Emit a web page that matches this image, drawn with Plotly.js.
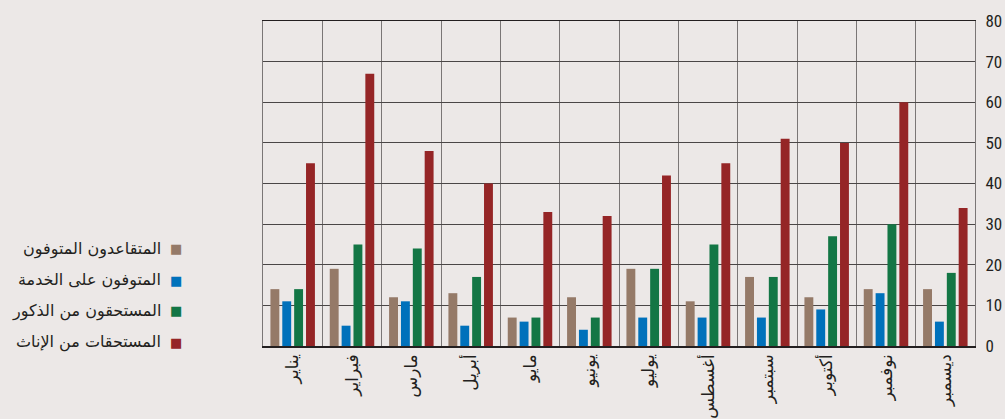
<!DOCTYPE html>
<html>
<head>
<meta charset="utf-8">
<script src="https://cdn.plot.ly/plotly-3.0.1.min.js"></script>
<style>
  html, body { margin: 0; padding: 0; background: #ece8e7; }
  #chart { width: 1005px; height: 419px; }
</style>
</head>
<body>
<div id="chart"></div>
<script>
// Categories (months)
const months = ["يناير", "فبراير", "مارس", "أبريل", "مايو", "يونيو", "يوليو", "أغسطس", "سبتمبر", "أكتوبر", "نوفمبر", "ديسمبر"];

// Series names
const seriesNames = ["المتقاعدون المتوفون", "المتوفون على الخدمة", "المستحقون من الذكور", "المستحقات من الإناث"];

// Series values
const retiredDeceased = [14, 19, 12, 13, 7, 12, 19, 11, 17, 12, 14, 14];
const deceasedInService = [11, 5, 11, 5, 6, 4, 7, 7, 7, 9, 13, 6];
const maleBeneficiaries = [14, 25, 24, 17, 7, 7, 19, 25, 17, 27, 30, 18];
const femaleBeneficiaries = [45, 67, 48, 40, 33, 32, 42, 45, 51, 50, 60, 34];

// Y tick values
const yTicks = [0, 10, 20, 30, 40, 50, 60, 70, 80];

const seriesValues = [retiredDeceased, deceasedInService, maleBeneficiaries, femaleBeneficiaries];
const colors = ["#957a68", "#0071bb", "#137645", "#952526"];

const traces = seriesValues.map((vals, i) => ({
  type: "bar",
  x: months,
  y: vals,
  name: seriesNames[i],
  marker: { color: colors[i], line: { width: 0 } },
  showlegend: false,
  hoverinfo: "x+y+name"
}));

const arabicFont = "'DejaVu Sans', 'Noto Sans', sans-serif";

// Legend built as annotations (symbol on the right of the text)
const annotations = [];
const legendY = [0.2985, 0.203, 0.1077, 0.0123];
seriesNames.forEach((name, i) => {
  annotations.push({
    xref: "paper", yref: "paper",
    x: -0.1404, y: legendY[i],
    xanchor: "right", yanchor: "middle",
    text: name, showarrow: false,
    font: { family: arabicFont, size: 16, color: "#231f20" }
  });
  annotations.push({
    xref: "paper", yref: "paper",
    x: -0.1222, y: legendY[i],
    xanchor: "center", yanchor: "middle",
    text: "■", showarrow: false,
    font: { family: "DejaVu Sans", size: 13, color: colors[i] }
  });
});

const layout = {
  width: 1005,
  height: 419,
  margin: { l: 263, r: 30, t: 21, b: 73, pad: 0 },
  paper_bgcolor: "#ece8e7",
  plot_bgcolor: "#ece8e7",
  barmode: "group",
  bargap: 0.2,
  bargroupgap: 0.25,
  showlegend: false,
  xaxis: {
    type: "category",
    tickson: "boundaries",
    showgrid: true,
    gridcolor: "#7a7676",
    gridwidth: 1,
    showline: true,
    linecolor: "#231f20",
    linewidth: 1.5,
    mirror: true,
    ticks: "",
    tickangle: -90,
    tickfont: { family: arabicFont, size: 17, color: "#231f20" },
    range: [-0.5, 11.5],
    fixedrange: true
  },
  yaxis: {
    side: "right",
    range: [0, 80],
    tickvals: yTicks,
    ticktext: yTicks.map(String),
    showgrid: true,
    gridcolor: "#4a4646",
    gridwidth: 1,
    zeroline: false,
    showline: true,
    linecolor: "#7a7676",
    linewidth: 1,
    mirror: true,
    ticks: "",
    ticklabelstandoff: 6,
    tickfont: { family: "'Liberation Sans Narrow', 'Roboto Condensed', 'DejaVu Sans Condensed', sans-serif", size: 17, color: "#231f20" },
    fixedrange: true
  },
  annotations: annotations
};

Plotly.newPlot("chart", traces, layout, { displayModeBar: false, staticPlot: true });
</script>
</body>
</html>
